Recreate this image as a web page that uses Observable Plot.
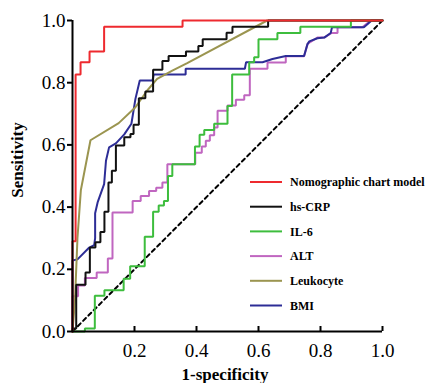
<!DOCTYPE html>
<html><head><meta charset="utf-8">
<script src="https://cdn.jsdelivr.net/npm/d3@7"></script>
<script src="https://cdn.jsdelivr.net/npm/@observablehq/plot@0.6"></script>
<style>body{margin:0;background:#fff}#chart{width:425px;height:383px}</style>
</head><body><div id="chart"></div>
<script>
const seriesNames = ["Nomographic chart model","hs-CRP","IL-6","ALT","Leukocyte","BMI"];
const seriesColors = ["#ee2a2f","#111111","#3dbd3d","#c066c0","#9b9550","#2d2d96"];
const xTicks = [0.2,0.4,0.6,0.8,1.0];
const yTicks = [0,0.2,0.4,0.6,0.8,1.0];
const chance = [[0,0],[1,1]];
const nomogram = [[0,0],[0,0.29],[0.01,0.29],[0.01,0.826],[0.026,0.826],[0.026,0.866],[0.055,0.866],[0.055,0.90],[0.102,0.90],[0.102,0.98],[0.355,0.98],[0.355,1],[1,1]];
const hsCRP = [[0,0],[0,0.01],[0.012,0.01],[0.012,0.15],[0.042,0.15],[0.042,0.19],[0.056,0.19],[0.056,0.27],[0.074,0.27],[0.074,0.287],[0.09,0.287],[0.09,0.32],[0.103,0.32],[0.103,0.385],[0.116,0.385],[0.116,0.479],[0.127,0.479],[0.127,0.517],[0.14,0.517],[0.14,0.598],[0.167,0.598],[0.167,0.625],[0.187,0.625],[0.187,0.635],[0.197,0.635],[0.197,0.665],[0.214,0.665],[0.214,0.75],[0.235,0.75],[0.235,0.772],[0.26,0.772],[0.26,0.842],[0.29,0.842],[0.29,0.87],[0.31,0.87],[0.31,0.886],[0.366,0.886],[0.366,0.9],[0.406,0.9],[0.406,0.918],[0.42,0.918],[0.42,0.94],[0.497,0.94],[0.497,0.961],[0.516,0.961],[0.516,0.98],[0.631,0.98],[0.631,1],[1,1]];
const il6 = [[0,0],[0.04,0],[0.04,0.01],[0.072,0.01],[0.072,0.115],[0.103,0.115],[0.103,0.133],[0.165,0.133],[0.165,0.17],[0.186,0.17],[0.186,0.21],[0.233,0.21],[0.233,0.305],[0.26,0.305],[0.26,0.385],[0.278,0.385],[0.278,0.405],[0.295,0.405],[0.295,0.42],[0.308,0.42],[0.308,0.5],[0.322,0.5],[0.322,0.538],[0.395,0.538],[0.395,0.595],[0.41,0.595],[0.41,0.633],[0.425,0.633],[0.425,0.648],[0.457,0.648],[0.457,0.668],[0.5,0.668],[0.5,0.725],[0.515,0.725],[0.515,0.826],[0.57,0.826],[0.57,0.866],[0.586,0.866],[0.586,0.882],[0.6,0.882],[0.6,0.94],[0.661,0.94],[0.661,0.96],[0.735,0.96],[0.735,0.98],[0.898,0.98],[0.898,1],[1,1]];
const alt = [[0,0],[0,0.113],[0.018,0.113],[0.018,0.148],[0.04,0.148],[0.04,0.172],[0.078,0.172],[0.078,0.19],[0.114,0.19],[0.114,0.235],[0.129,0.235],[0.129,0.383],[0.194,0.383],[0.194,0.42],[0.22,0.42],[0.22,0.436],[0.247,0.436],[0.247,0.452],[0.27,0.452],[0.27,0.462],[0.29,0.462],[0.29,0.479],[0.306,0.479],[0.306,0.538],[0.396,0.538],[0.396,0.575],[0.417,0.575],[0.417,0.595],[0.43,0.595],[0.43,0.613],[0.443,0.613],[0.443,0.631],[0.457,0.631],[0.457,0.656],[0.468,0.656],[0.468,0.71],[0.5,0.71],[0.5,0.727],[0.527,0.727],[0.527,0.745],[0.554,0.745],[0.554,0.76],[0.572,0.76],[0.572,0.845],[0.629,0.845],[0.629,0.865],[0.688,0.865],[0.688,0.885],[0.747,0.885],[0.758,0.924],[0.764,0.929],[0.79,0.945],[0.812,0.945],[0.836,0.96],[0.855,0.96],[0.855,0.978],[0.935,0.978],[0.962,1],[1,1]];
const leukocyte = [[0,0],[0.008,0.1],[0.016,0.3],[0.027,0.455],[0.058,0.615],[0.149,0.67],[0.203,0.721],[0.241,0.775],[0.273,0.812],[0.322,0.839],[0.37,0.863],[0.628,1],[1,1]];
const bmi = [[0,0],[0,0.228],[0.016,0.232],[0.054,0.27],[0.07,0.278],[0.073,0.3],[0.073,0.38],[0.081,0.415],[0.102,0.474],[0.108,0.549],[0.118,0.592],[0.14,0.605],[0.167,0.634],[0.19,0.668],[0.203,0.748],[0.217,0.807],[0.258,0.807],[0.262,0.826],[0.365,0.826],[0.365,0.845],[0.556,0.845],[0.56,0.866],[0.613,0.866],[0.645,0.876],[0.688,0.886],[0.747,0.886],[0.758,0.924],[0.764,0.933],[0.79,0.943],[0.812,0.945],[0.833,0.96],[0.837,0.978],[0.94,0.978],[0.965,1],[1,1]];

const seriesData = [nomogram, hsCRP, il6, alt, leukocyte, bmi];
const drawOrder = [3, 5, 2, 4, 1, 0];
const fmt = d3.format(".1f");

const plot = Plot.plot({
  width: 425, height: 383,
  marginLeft: 72, marginRight: 43, marginTop: 20, marginBottom: 52,
  style: {fontFamily: "'Liberation Serif', 'Times New Roman', serif", background: "#fff", color: "#000"},
  x: {domain: [0, 1]},
  y: {domain: [0, 1]},
  marks: [
    Plot.line(chance, {x: d => d[0], y: d => d[1], stroke: "#000", strokeWidth: 2, strokeDasharray: "4,3.5"}),
    ...drawOrder.map(k => Plot.line(seriesData[k], {x: d => d[0], y: d => d[1], stroke: seriesColors[k], strokeWidth: 2, strokeLinejoin: "miter"})),
    Plot.ruleX([0], {strokeWidth: 2}),
    Plot.ruleY([0], {strokeWidth: 2}),
    Plot.axisY({ticks: yTicks, tickFormat: fmt, tickSize: 5, tickPadding: 2, fontSize: 19, label: null, strokeWidth: 2}),
    Plot.axisX({ticks: xTicks, tickSize: -5, text: null, label: null, strokeWidth: 2}),
    Plot.axisX({ticks: xTicks, tickFormat: fmt, tickSize: 0, tickPadding: 12, fontSize: 19, label: null})
  ]
});
document.getElementById("chart").appendChild(plot);

const svg = d3.select(plot);
svg.append("text").attr("transform", "translate(23,160) rotate(-90)")
  .attr("text-anchor", "middle").attr("font-weight", "bold").attr("font-size", 17)
  .attr("font-family", "'Liberation Serif', serif").text("Sensitivity");
svg.append("text").attr("x", 225).attr("y", 380)
  .attr("text-anchor", "middle").attr("font-weight", "bold").attr("font-size", 17)
  .attr("font-family", "'Liberation Serif', serif").text("1-specificity");

const legendTop = 182, legendStep = 24.7;
const lg = svg.append("g");
seriesNames.forEach((name, i) => {
  const y = legendTop + i * legendStep;
  lg.append("line").attr("x1", 250).attr("x2", 282).attr("y1", y).attr("y2", y)
    .attr("stroke", seriesColors[i]).attr("stroke-width", 2);
  lg.append("text").attr("x", 290).attr("y", y).attr("dy", "0.35em")
    .attr("text-anchor", "start")
    .attr("font-weight", "bold").attr("font-size", 12)
    .attr("font-family", "'Liberation Serif', serif").text(name);
});
</script></body></html>
